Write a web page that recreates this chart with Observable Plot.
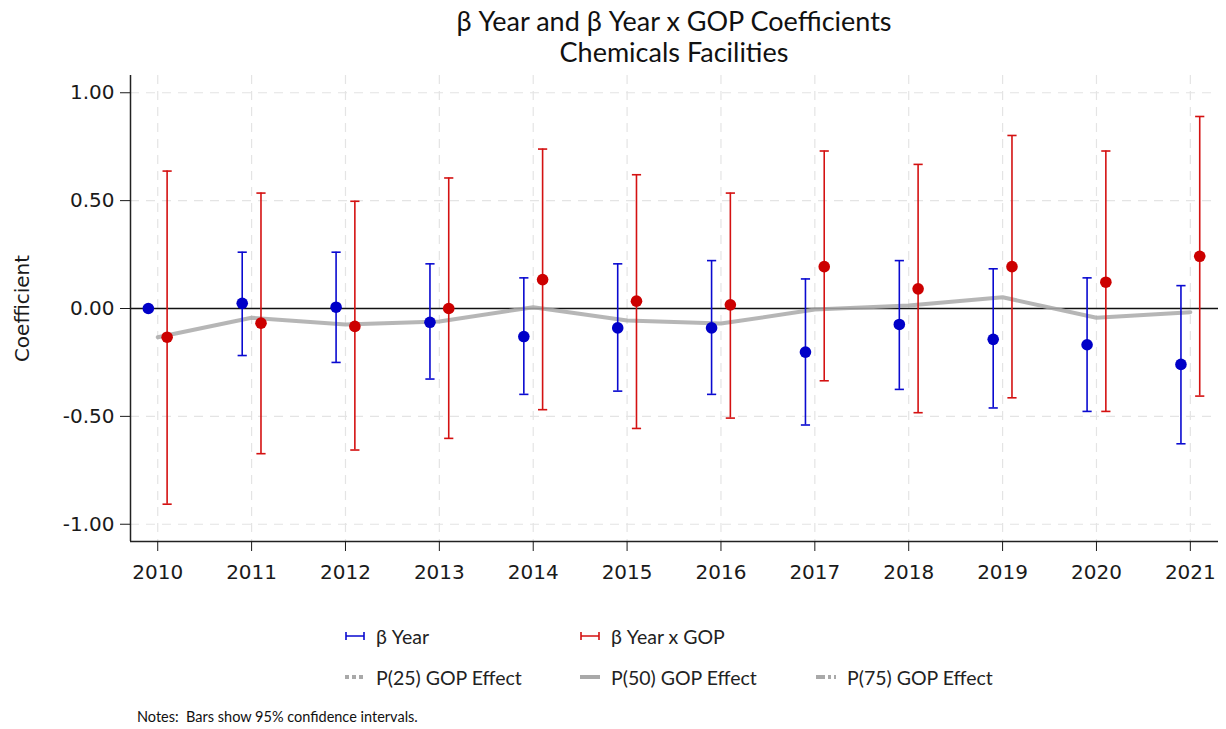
<!DOCTYPE html>
<html>
<head>
<meta charset="utf-8">
<script src="https://cdn.jsdelivr.net/npm/d3@7"></script>
<script src="https://cdn.jsdelivr.net/npm/@observablehq/plot@0.6"></script>
<style>
  html, body { margin: 0; padding: 0; background: #fff; }
  body { width: 1226px; height: 729px; position: relative; overflow: hidden; }
  #title { position: absolute; left: 130px; width: 1088px; top: 5px; text-align: center;
           font-family: Lato, "Open Sans", sans-serif; font-size: 27px; line-height: 31px; color: #111; }
  #chart { position: absolute; left: 0; top: 65px; }
  #legend { position: absolute; left: 345px; top: 622px; display: grid;
            grid-template-columns: 235px 236px 240px; row-gap: 13px;
            font-family: Lato, "Open Sans", sans-serif; font-size: 19.5px; color: #222; }
  .item { display: flex; align-items: center; height: 28px; }
  .item svg { margin-right: 11px; flex: none; }
  #notes { position: absolute; left: 137px; top: 708px; font-family: Lato, "Open Sans", sans-serif;
           font-size: 14.5px; color: #111; }
</style>
</head>
<body>
<div id="title">β Year and β Year x GOP Coefficients<br>Chemicals Facilities</div>
<div id="chart"></div>
<div id="legend"></div>
<div id="notes">Notes:&nbsp; Bars show 95% confidence intervals.</div>
<script>
// Regression coefficients by year with 95% confidence bounds
const years    = [2010, 2011, 2012, 2013, 2014, 2015, 2016, 2017, 2018, 2019, 2020, 2021];
const yearCoef = [0.000, 0.024, 0.006, -0.064, -0.130, -0.090, -0.090, -0.202, -0.074, -0.143, -0.168, -0.259];
const yearLo   = [null, -0.218, -0.250, -0.327, -0.398, -0.383, -0.398, -0.540, -0.375, -0.461, -0.477, -0.627];
const yearHi   = [null, 0.261, 0.261, 0.207, 0.142, 0.207, 0.222, 0.137, 0.222, 0.184, 0.142, 0.106];
const gopCoef  = [-0.133, -0.068, -0.083, 0.000, 0.134, 0.034, 0.017, 0.194, 0.091, 0.194, 0.122, 0.242];
const gopLo    = [-0.907, -0.673, -0.656, -0.602, -0.469, -0.556, -0.508, -0.335, -0.483, -0.414, -0.477, -0.406];
const gopHi    = [0.637, 0.535, 0.497, 0.605, 0.739, 0.620, 0.535, 0.730, 0.668, 0.802, 0.730, 0.890];
// Median (P50) GOP effect line
const p50Effect = [-0.133, -0.043, -0.074, -0.060, 0.006, -0.056, -0.070, -0.005, 0.014, 0.052, -0.043, -0.017];
const yTicks = [-1, -0.5, 0, 0.5, 1];

const BLUE = "#0a0ad0", RED = "#d41111", GRAY = "#a9a9a9";
const shift = 0.1; // side-by-side offset of the two series around each year

const yearRows = years.map((yr, i) => ({x: yr - shift, c: yearCoef[i], lo: yearLo[i], hi: yearHi[i]}));
const gopRows  = years.map((yr, i) => ({x: yr + shift, c: gopCoef[i], lo: gopLo[i], hi: gopHi[i]}));
const effRows  = years.map((yr, i) => ({x: yr, v: p50Effect[i]}));

const xDom = [2009.71, 2021.3];
const yDom = [-1.08, 1.08];

// horizontal cap symbol for error bar ends
const cap = { draw(ctx, size) { const r = Math.sqrt(size / Math.PI); ctx.moveTo(-r, 0); ctx.lineTo(r, 0); } };

function bars(rows, color) {
  const withCI = rows.filter(d => d.lo != null);
  return [
    Plot.ruleX(withCI, {x: "x", y1: "lo", y2: "hi", stroke: color, strokeWidth: 1.6}),
    Plot.dot(withCI, {x: "x", y: "lo", symbol: cap, r: 4.6, stroke: color, strokeWidth: 1.6, fill: "none"}),
    Plot.dot(withCI, {x: "x", y: "hi", symbol: cap, r: 4.6, stroke: color, strokeWidth: 1.6, fill: "none"})
  ];
}

const chart = Plot.plot({
  width: 1226,
  height: 531,
  marginTop: 10,
  marginBottom: 55,
  marginLeft: 130,
  marginRight: 8,
  style: {fontFamily: "'DejaVu Sans', Verdana, sans-serif", fontSize: "20px", color: "#1a1a1a", background: "#fff"},
  x: {type: "linear", domain: xDom},
  y: {domain: yDom},
  marks: [
    Plot.gridY(yTicks.filter(d => d !== 0), {stroke: "#e4e4e4", strokeOpacity: 1, strokeWidth: 1.2, strokeDasharray: "9,7"}),
    Plot.gridX(years, {stroke: "#e4e4e4", strokeOpacity: 1, strokeWidth: 1.2, strokeDasharray: "9,7"}),
    Plot.ruleY([0], {stroke: "#111", strokeWidth: 1.3}),
    Plot.line(effRows, {x: "x", y: "v", stroke: GRAY, strokeWidth: 4, strokeOpacity: 0.85}),
    ...bars(yearRows, BLUE),
    ...bars(gopRows, RED),
    Plot.dot(yearRows, {x: "x", y: "c", r: 5.8, fill: "#0000c8"}),
    Plot.dot(gopRows, {x: "x", y: "c", r: 5.8, fill: "#cc0000"}),
    Plot.ruleX([xDom[0]], {stroke: "#222", strokeWidth: 1.5}),
    Plot.ruleY([yDom[0]], {stroke: "#222", strokeWidth: 1.5}),
    Plot.axisY({ticks: yTicks, tickFormat: d => d.toFixed(2), tickSize: 10, tickPadding: 6,
                label: "Coefficient", labelAnchor: "center", labelArrow: "none", labelOffset: 116}),
    Plot.axisX({ticks: years, tickFormat: d => String(d), tickSize: 10, tickPadding: 13, label: null})
  ]
});
document.getElementById("chart").appendChild(chart);

// Legend built from the series names and their line styles
const legendItems = [
  {name: "β Year", kind: "bar", color: BLUE},
  {name: "β Year x GOP", kind: "bar", color: RED},
  {name: "", kind: "none"},
  {name: "P(25) GOP Effect", kind: "line", dash: "4,3"},
  {name: "P(50) GOP Effect", kind: "line", dash: null},
  {name: "P(75) GOP Effect", kind: "line", dash: "9,3,3,3"}
];
const legend = d3.select("#legend");
for (const it of legendItems) {
  const div = legend.append("div").attr("class", "item");
  if (it.kind === "none") continue;
  const svg = div.append("svg").attr("width", 20).attr("height", 14);
  if (it.kind === "bar") {
    svg.append("path").attr("d", "M1,7H19M1,3V11M19,3V11").attr("stroke", it.color).attr("stroke-width", 1.6).attr("fill", "none");
  } else {
    svg.append("line").attr("x1", 0).attr("x2", 20).attr("y1", 7).attr("y2", 7)
      .attr("stroke", GRAY).attr("stroke-width", 4).attr("stroke-dasharray", it.dash);
  }
  div.append("span").text(it.name);
}
</script>
</body>
</html>
